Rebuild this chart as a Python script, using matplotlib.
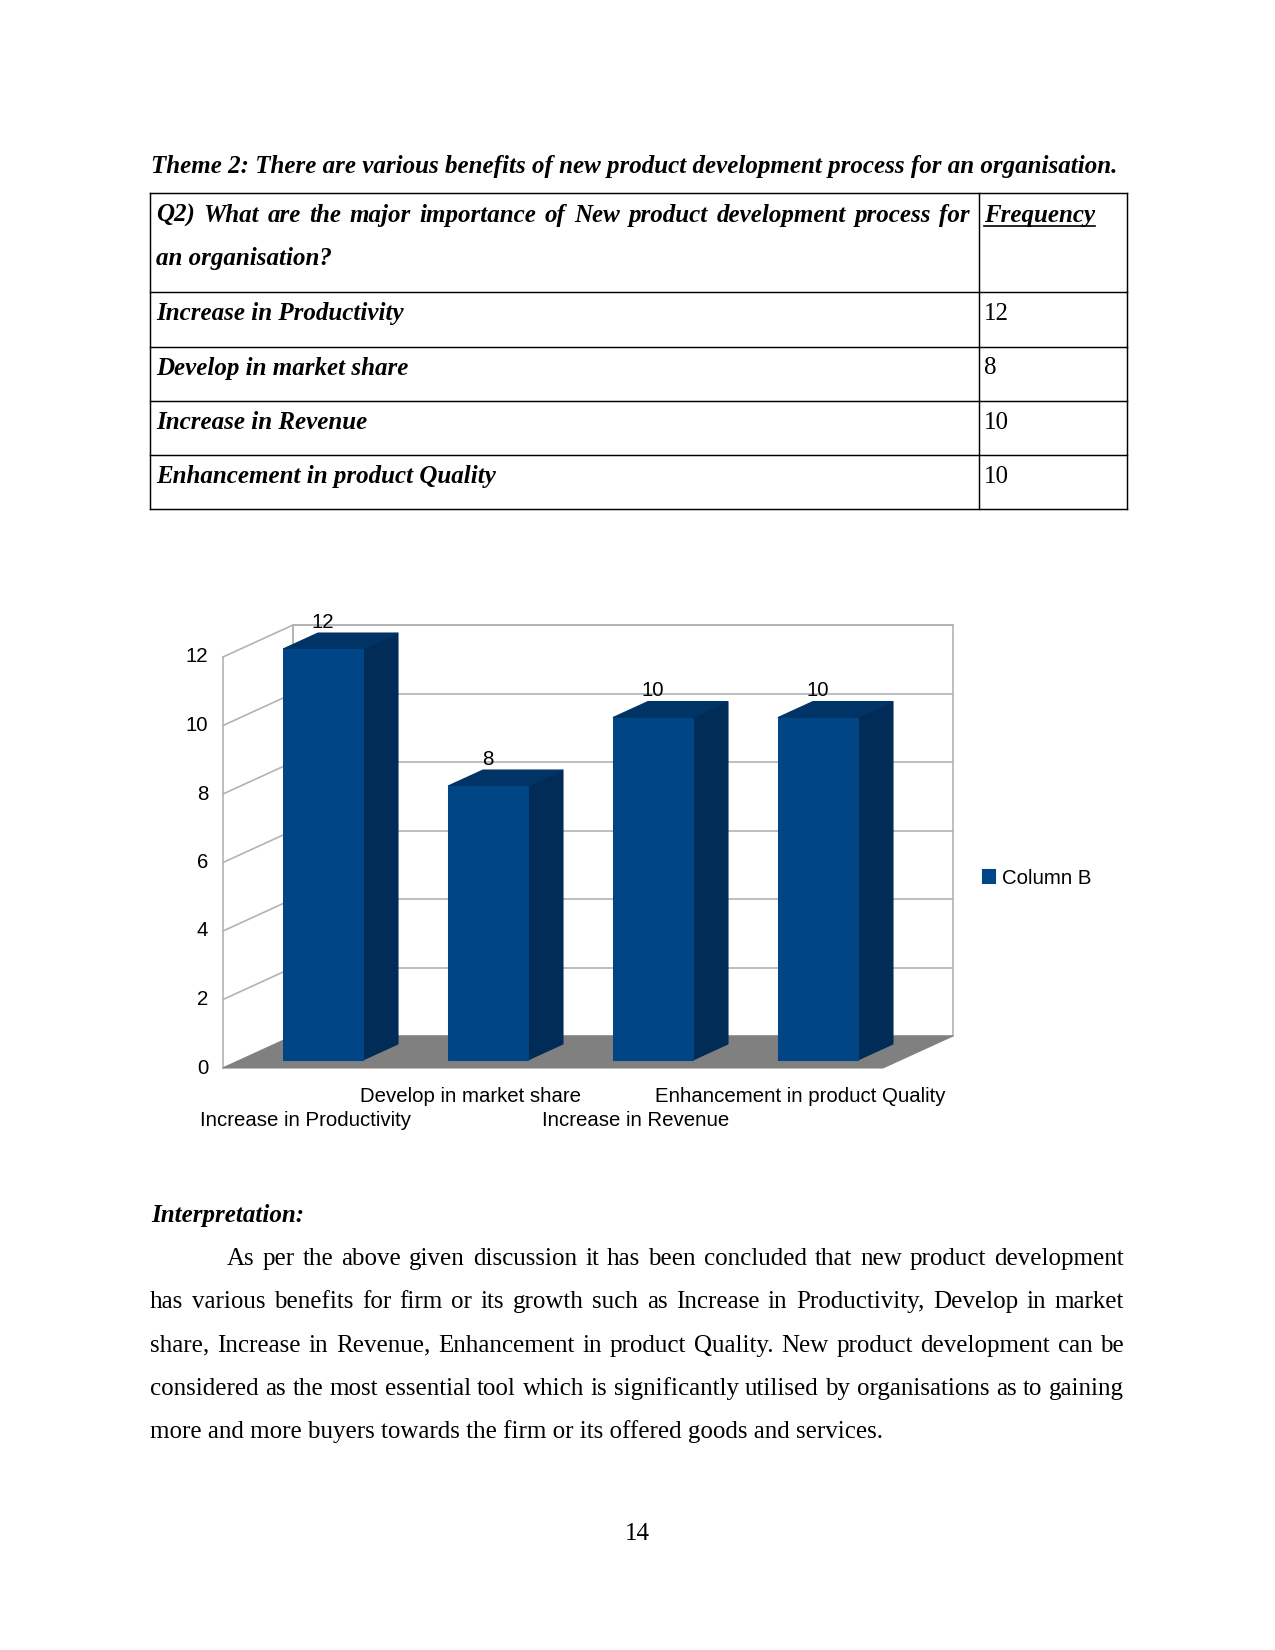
import matplotlib
matplotlib.use("Agg")
import matplotlib.pyplot as plt
from matplotlib.patches import Polygon, Rectangle, Patch
from matplotlib.lines import Line2D
from matplotlib.font_manager import FontProperties

# ---------------- data ----------------
categories = ["Increase in Productivity", "Develop in market share",
              "Increase in Revenue", "Enhancement in product Quality"]
frequency = [12, 8, 10, 10]
y_ticks = [0, 2, 4, 6, 8, 10, 12]
series_name = "Column B"
title_text = "Theme 2: There are various benefits of new product development process for an organisation."
question_line1 = "Q2) What are the major importance of New product development process for"
question_line2 = "an organisation?"
freq_header = "Frequency"
interp_title = "Interpretation:"
para_lines = [
    "As per the above given discussion it has been concluded that new product development",
    "has various benefits for firm or its growth such as Increase in Productivity, Develop in market",
    "share, Increase in Revenue, Enhancement in product Quality. New product development can be",
    "considered as the most essential tool which is significantly utilised by organisations as to gaining",
    "more and more buyers towards the firm or its offered goods and services.",
]
page_number = "14"

# ---------------- figure ----------------
W, H = 1275, 1650
fig = plt.figure(figsize=(8.5, 11), dpi=150)
fig.patch.set_facecolor("white")
renderer = fig.canvas.get_renderer()

serif = "Liberation Serif"
sans = "Liberation Sans"
fp_bi = FontProperties(family=serif, weight="bold", style="italic", size=12)
fp_r = FontProperties(family=serif, size=12)
fp_chart = FontProperties(family=sans, size=9.75)


def P(x, y):
    return x / W, 1 - y / H


def put(x, y, s, fp, ha="left"):
    return fig.text(*P(x, y), s, fontproperties=fp, ha=ha, va="baseline", color="black")


def width_of(s, fp):
    t = fig.text(0, 0, s, fontproperties=fp)
    w = t.get_window_extent(renderer).width
    t.remove()
    return w


def justify(line, y, x0, x1, fp):
    words = line.split(" ")
    widths = [width_of(w, fp) for w in words]
    gap = (x1 - x0 - sum(widths)) / max(len(words) - 1, 1)
    x = x0
    for w, wd in zip(words, widths):
        put(x, y, w, fp)
        x += wd + gap


def hline(x0, x1, y, lw=0.7, color="black"):
    fig.add_artist(Line2D([x0 / W, x1 / W], [1 - y / H, 1 - y / H], lw=lw, color=color))


def vline(x, y0, y1, lw=0.7, color="black"):
    fig.add_artist(Line2D([x / W, x / W], [1 - y0 / H, 1 - y1 / H], lw=lw, color=color))


# ---------------- title ----------------
put(151, 173, title_text, fp_bi)

# ---------------- table ----------------
tl, tr, tc = 150, 1127, 979
row_lines = [193, 292, 346.5, 401, 455, 509]
for y in row_lines:
    hline(tl, tr, y)
for x in (tl, tc, tr):
    vline(x, row_lines[0], row_lines[-1])

justify(question_line1, 222, 156, 970, fp_bi)
put(156, 265, question_line2, fp_bi)
put(984, 222, freq_header, fp_bi)
fw = width_of(freq_header, fp_bi)
hline(984, 984 + fw, 226, lw=0.8)

for i, (cat, val) in enumerate(zip(categories, frequency)):
    yb = row_lines[i + 1] + 28
    put(156, yb, cat, fp_bi)
    put(984, yb, str(val), fp_r)

# ---------------- 3D-style bar chart ----------------
ax = fig.add_axes([223 / W, 1 - 1068 / H, 660 / W, 411 / H])
ax.set_xlim(0, len(categories))
ax.set_ylim(0, 12)
ax.axis("off")

DX, DY = 70 / 165, 32 / 34.25      # depth vector of the plot box (data units)
bar_w = 0.485
grid_c = "#b3b3b3"
front_c, side_c, top_c = "#004586", "#002c57", "#003366"
floor_c = "#808080"
n = len(categories)
ymax = y_ticks[-1]

# back wall + left wall
ax.add_patch(Polygon([(DX, DY), (n + DX, DY), (n + DX, ymax + DY), (DX, ymax + DY)],
                     closed=True, facecolor="white", edgecolor=grid_c, lw=0.8, clip_on=False, zorder=1))
for k in y_ticks:
    ax.plot([DX, n + DX], [k + DY, k + DY], color=grid_c, lw=0.8, clip_on=False, zorder=1)
    ax.plot([0, DX], [k, k + DY], color=grid_c, lw=0.8, clip_on=False, zorder=1)
ax.plot([0, 0], [0, ymax], color=grid_c, lw=0.8, clip_on=False, zorder=1)
ax.plot([DX, DX], [DY, ymax + DY], color=grid_c, lw=0.8, clip_on=False, zorder=1)

# floor
ax.add_patch(Polygon([(0, 0), (n, 0), (n + DX, DY), (DX, DY)], closed=True,
                     facecolor=floor_c, edgecolor=floor_c, lw=0.5, clip_on=False, zorder=2))

for i, v in enumerate(frequency):
    x0 = i + 0.5 + 0.25 * DX - bar_w / 2
    y0 = 0.25 * DY
    ddx, ddy = 0.5 * DX, 0.5 * DY
    ax.add_patch(Polygon([(x0 + bar_w, y0), (x0 + bar_w + ddx, y0 + ddy),
                          (x0 + bar_w + ddx, y0 + ddy + v), (x0 + bar_w, y0 + v)],
                         closed=True, facecolor=side_c, edgecolor=side_c, lw=0.5, clip_on=False, zorder=3))
    ax.add_patch(Polygon([(x0, y0 + v), (x0 + bar_w, y0 + v),
                          (x0 + bar_w + ddx, y0 + v + ddy), (x0 + ddx, y0 + v + ddy)],
                         closed=True, facecolor=top_c, edgecolor=top_c, lw=0.5, clip_on=False, zorder=3))
    ax.add_patch(Rectangle((x0, y0), bar_w, v, facecolor=front_c, edgecolor=front_c,
                           lw=0.5, clip_on=False, zorder=4))
    ax.text(x0 + bar_w / 2, y0 + v + 0.78, str(v), fontproperties=fp_chart,
            ha="center", va="center", color="black", zorder=5)
    off = -16.4 if i % 2 == 1 else -27.9
    ax.annotate(categories[i], (i + 0.5, 0), xytext=(0, off), textcoords="offset points",
                ha="center", va="baseline", fontproperties=fp_chart, annotation_clip=False)

for k in y_ticks:
    ax.annotate(str(k), (0, k), xytext=(-7.2, 0), textcoords="offset points",
                ha="right", va="center", fontproperties=fp_chart, annotation_clip=False)

fig.legend(handles=[Patch(facecolor=front_c, edgecolor=front_c, label=series_name)],
           loc="center left", bbox_to_anchor=(983 / W, 1 - 878 / H), frameon=False,
           borderpad=0, borderaxespad=0, handlelength=0.58, handleheight=0.58,
           handletextpad=0.35, prop=fp_chart)

# ---------------- interpretation ----------------
put(151, 1222, interp_title, fp_bi)
para_base = [1265, 1308.3, 1351.6, 1395, 1438.3]
for j, (line, yb) in enumerate(zip(para_lines, para_base)):
    if j == 0:
        justify(line, yb, 227, 1124, fp_r)
    elif j < len(para_lines) - 1:
        justify(line, yb, 150, 1124, fp_r)
    else:
        put(150, yb, line, fp_r)

put(637.5, 1540, page_number, fp_r, ha="center")

fig.savefig("out.png", dpi=150, facecolor="white")
